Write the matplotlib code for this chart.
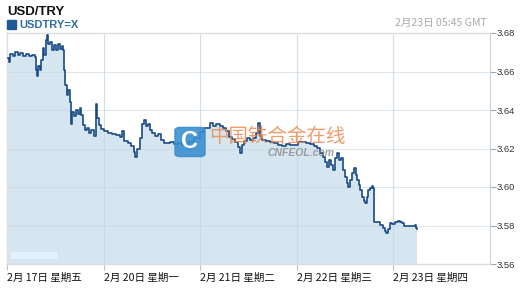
import matplotlib
matplotlib.use("Agg")
import matplotlib.pyplot as plt
from matplotlib.patches import FancyBboxPatch, Rectangle

plt.rcParams['font.family'] = ['Liberation Sans', 'Noto Sans CJK SC', 'DejaVu Sans']

# time in trading days since 2/17 00:00 GMT
days = [0.010, 0.021, 0.031, 0.062, 0.083, 0.114, 0.135, 0.166, 0.197, 0.228, 0.259, 0.290,
        0.300, 0.311, 0.321, 0.342, 0.352, 0.373, 0.383, 0.404, 0.414, 0.424, 0.445, 0.466,
        0.487, 0.507, 0.528, 0.549, 0.569, 0.580, 0.590, 0.600, 0.621, 0.631, 0.652, 0.663,
        0.673, 0.694, 0.714, 0.735, 0.756, 0.766, 0.787, 0.807, 0.828, 0.849, 0.870, 0.901,
        0.921, 0.932, 0.952, 0.973, 1.004, 1.046, 1.087, 1.128, 1.170, 1.190, 1.211, 1.253,
        1.284, 1.315, 1.325, 1.346, 1.377, 1.398, 1.418, 1.439, 1.460, 1.480, 1.501, 1.532,
        1.563, 1.594, 1.625, 1.656, 1.687, 1.729, 1.770, 1.812, 1.874, 1.936, 1.998, 2.039,
        2.070, 2.101, 2.133, 2.164, 2.205, 2.236, 2.267, 2.298, 2.329, 2.360, 2.391, 2.412,
        2.433, 2.453, 2.484, 2.516, 2.547, 2.578, 2.598, 2.619, 2.640, 2.681, 2.723, 2.764,
        2.805, 2.847, 2.888, 2.930, 2.971, 3.012, 3.054, 3.095, 3.137, 3.178, 3.209, 3.240,
        3.271, 3.292, 3.313, 3.333, 3.354, 3.375, 3.395, 3.416, 3.437, 3.458, 3.478, 3.499,
        3.520, 3.530, 3.551, 3.571, 3.592, 3.613, 3.623, 3.644, 3.654, 3.675, 3.696, 3.706,
        3.727, 3.737, 3.758, 3.778, 3.789, 3.799, 3.830, 3.861, 3.892, 3.913, 3.923, 3.944,
        3.965, 3.986, 4.017, 4.048, 4.068, 4.089, 4.110, 4.141, 4.172, 4.203, 4.224, 4.234,
        4.244]

rates = [3.6670, 3.6649, 3.6691, 3.6681, 3.6701, 3.6686, 3.6696, 3.6681, 3.6691, 3.6681, 3.6686, 3.6675,
         3.6608, 3.6577, 3.6629, 3.6608, 3.6660, 3.6722, 3.6686, 3.6764, 3.6790, 3.6743, 3.6753, 3.6712,
         3.6738, 3.6712, 3.6743, 3.6717, 3.6732, 3.6712, 3.6608, 3.6530, 3.6478, 3.6504, 3.6442, 3.6327,
         3.6390, 3.6369, 3.6400, 3.6379, 3.6410, 3.6374, 3.6322, 3.6296, 3.6306, 3.6281, 3.6296, 3.6265,
         3.6431, 3.6358, 3.6322, 3.6301, 3.6291, 3.6281, 3.6275, 3.6270, 3.6260, 3.6291, 3.6239, 3.6229,
         3.6213, 3.6182, 3.6156, 3.6197, 3.6255, 3.6327, 3.6348, 3.6317, 3.6327, 3.6296, 3.6281, 3.6265,
         3.6275, 3.6244, 3.6229, 3.6229, 3.6234, 3.6223, 3.6229, 3.6218, 3.6234, 3.6255, 3.6286, 3.6306,
         3.6306, 3.6332, 3.6317, 3.6327, 3.6317, 3.6306, 3.6291, 3.6260, 3.6249, 3.6234, 3.6208, 3.6177,
         3.6218, 3.6239, 3.6255, 3.6244, 3.6255, 3.6281, 3.6332, 3.6265, 3.6244, 3.6239, 3.6234, 3.6229,
         3.6218, 3.6213, 3.6223, 3.6218, 3.6218, 3.6234, 3.6234, 3.6229, 3.6223, 3.6213, 3.6203, 3.6177,
         3.6156, 3.6130, 3.6104, 3.6140, 3.6114, 3.6088, 3.6151, 3.6177, 3.6140, 3.6151, 3.6088, 3.6052,
         3.6021, 3.6000, 3.6036, 3.6073, 3.6099, 3.6062, 3.6036, 3.6010, 3.5984, 3.5948, 3.5927, 3.5917,
         3.5948, 3.5984, 3.5995, 3.6005, 3.5995, 3.5818, 3.5818, 3.5803, 3.5787, 3.5771, 3.5761, 3.5782,
         3.5813, 3.5808, 3.5818, 3.5823, 3.5818, 3.5813, 3.5797, 3.5797, 3.5797, 3.5797, 3.5803, 3.5787,
         3.5782]

tick_pos = [0, 1, 2, 3, 4]
tick_labels = ['2月 17日 星期五', '2月 20日 星期一', '2月 21日 星期二', '2月 22日 星期三', '2月 23日 星期四']
y_ticks = [3.56, 3.58, 3.60, 3.62, 3.64, 3.66, 3.68]

W, H = 522, 288
fig = plt.figure(figsize=(W / 100, H / 100), dpi=100)
ax = fig.add_axes([7 / W, 24 / H, (490 - 7) / W, (264 - 33) / H])

ymin, ymax = 3.56, 3.68
ax.set_xlim(0, 5)
ax.set_ylim(ymin, ymax)

ax.fill_between(days, rates, ymin, step='post', color='#d6e6f1', lw=0, zorder=1)
ax.plot(days, rates, drawstyle='steps-post', color='#1a4c84', lw=1.2, zorder=3)

# grid
for yv in y_ticks[1:-1]:
    ax.axhline(yv, color='#c9d6e3', lw=0.8, alpha=0.6, zorder=2)
for xv in tick_pos[1:]:
    ax.axvline(xv, color='#c9d6e3', lw=0.8, alpha=0.8, zorder=2)

for s in ['left', 'top', 'bottom']:
    ax.spines[s].set_color('#dddddd')
    ax.spines[s].set_linewidth(1)
ax.spines['right'].set_color('#c8d0d8')

ax.yaxis.tick_right()
ax.set_yticks(y_ticks)
ax.set_yticklabels(['%.2f' % v for v in y_ticks])
ax.tick_params(axis='y', direction='out', length=4, width=0.8, color='#9aa8b8',
               labelsize=6.8, labelcolor='#333333', pad=1)

ax.set_xticks(tick_pos)
ax.set_xticklabels(tick_labels)
ax.tick_params(axis='x', direction='out', length=4, width=0.8, color='#b8c4d0',
               labelsize=7.6, labelcolor='#111111', pad=2.5)
for lbl in ax.get_xticklabels():
    lbl.set_horizontalalignment('left')
    lbl.set_fontfamily(['Noto Sans CJK SC', 'DejaVu Sans'])

# faint block bottom-left
ax.add_patch(Rectangle((0.04, 3.5625), 0.48, 0.0037, color='#e4f0fb', lw=0, zorder=2))

# titles
fig.text(7 / W, 1 - 12 / H, 'USD/TRY', fontsize=9.5, fontweight='bold', color='#111111', va='center', ha='left')
fig.add_artist(Rectangle((7 / W, 1 - 29 / H), 9 / W, 9 / H, color='#1f5a96', transform=fig.transFigure))
fig.text(19 / W, 1 - 24.5 / H, 'USDTRY=X', fontsize=8, fontweight='bold', color='#2e6aa8', va='center', ha='left')
fig.text(487 / W, 1 - 22.5 / H, '2月23日 05:45 GMT', fontsize=7.6, color='#aaaaaa', va='center', ha='right',
         family=['Noto Sans CJK SC', 'DejaVu Sans'])

# watermark
fig.add_artist(FancyBboxPatch((176 / W, 1 - 156 / H), 28 / W, 28 / H,
                              boxstyle='round,pad=0.002,rounding_size=0.01',
                              transform=fig.transFigure, color='#3b8fd0', alpha=0.9, zorder=5))
fig.text(190 / W, 1 - 142 / H, 'C', fontsize=17, fontweight='bold', color='white', ha='center', va='center', zorder=6)
fig.text(209 / W, 1 - 136 / H, '中国铁合金在线', fontsize=14, color='#f08a50', alpha=0.85, ha='left', va='center',
         family=['Noto Sans CJK SC'], zorder=6)
fig.text(268 / W, 1 - 153 / H, 'CNFEOL.com', fontsize=7.5, color='#888888', alpha=0.8, fontstyle='italic',
         fontweight='bold', ha='left', va='center', zorder=6)

fig.savefig('out.png', dpi=100)
